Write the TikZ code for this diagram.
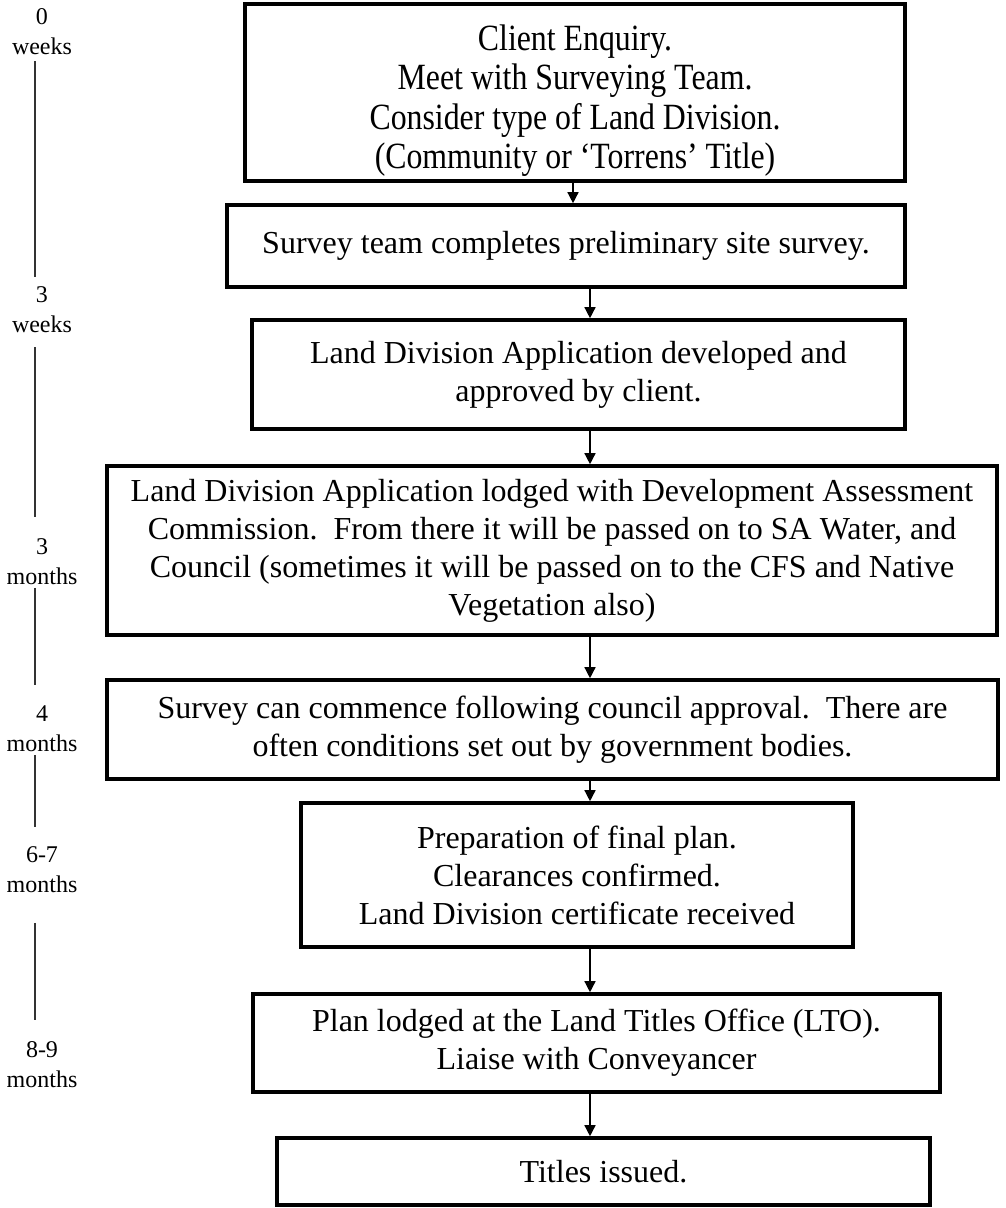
\documentclass[tikz,border=0pt]{standalone}
\usepackage{fontspec}
\setmainfont{Liberation Serif}
\newfontfamily\narrowserif[FakeStretch=0.86, Ligatures=TeX]{Liberation Serif}
\usetikzlibrary{arrows.meta,positioning,calc}

\begin{document}
\begin{tikzpicture}[
    x=0.5pt, y=-0.5pt,
    stage/.style={rectangle, draw, line width=1.8pt, align=center, inner sep=0pt,
                  font=\fontsize{16}{19}\selectfont},
    edge/.style={-{Triangle[length=5.5pt, width=5.5pt]}, line width=0.7pt},
    period/.style={align=center, inner sep=0pt, font=\fontsize{12}{15}\selectfont},
    span/.style={line width=0.8pt, draw=black!80}
]
\useasboundingbox (0,0) rectangle (1005,1208);

% Stages
\node[stage, minimum width=330pt, minimum height=88.5pt,
      font=\narrowserif\fontsize{18.5}{19.6}\selectfont] (enquiry) at (575,92.5)
    {\rule{0pt}{21pt}Client Enquiry.\\ Meet with Surveying Team.\\ Consider type of Land Division.\\ (Community or `Torrens' Title)};
\node[stage, minimum width=339pt, minimum height=41pt] (prelim) at (566,246)
    {Survey team completes preliminary site survey.};
\node[stage, minimum width=326.5pt, minimum height=54.5pt] (develop) at (578.5,374.5)
    {Land Division Application developed and\\ approved by client.};
\node[stage, minimum width=445pt, minimum height=84.5pt] (lodged) at (552,550.5)
    {Land Division Application lodged with Development Assessment\\
     Commission.\ \ From there it will be passed on to SA Water, and\\
     Council (sometimes it will be passed on to the CFS and Native\\
     Vegetation also)};
\node[stage, minimum width=445.5pt, minimum height=49.5pt] (approval) at (552.5,729.5)
    {Survey can commence following council approval.\ \ There are\\
     often conditions set out by government bodies.};
\node[stage, minimum width=276pt, minimum height=72pt] (final) at (577,875)
    {Preparation of final plan.\\ Clearances confirmed.\\ Land Division certificate received};
\node[stage, minimum width=343.5pt, minimum height=49pt] (lto) at (596.5,1043)
    {Plan lodged at the Land Titles Office (LTO).\\ Liaise with Conveyancer};
\node[stage, minimum width=326.5pt, minimum height=33.5pt] (titles) at (603.5,1171.5)
    {Titles issued.};

% Arrows
\coordinate (lane1) at (573,0);
\coordinate (lane) at (590,0);
\draw[edge] (enquiry.south -| lane1) -- (prelim.north -| lane1);
\draw[edge] (prelim.south -| lane) -- (develop.north -| lane);
\draw[edge] (develop.south -| lane) -- (lodged.north -| lane);
\draw[edge] (lodged.south -| lane) -- (approval.north -| lane);
\draw[edge] (approval.south -| lane) -- (final.north -| lane);
\draw[edge] (final.south -| lane) -- (lto.north -| lane);
\draw[edge] (lto.south -| lane) -- (titles.north -| lane);

% Time line
\node[period] (w0) at (42,32) {0\\weeks};
\node[period] (w3) at (42,310) {3\\weeks};
\node[period] (m3) at (42,562) {3\\months};
\node[period] (m4) at (42,729) {4\\months};
\node[period] (m67) at (42,870) {6-7\\months};
\node[period] (m89) at (42,1065) {8-9\\months};

\draw[span, shorten <=3pt, shorten >=4.75pt] ([xshift=-3.5pt]w0.south) -- ([xshift=-3.5pt]w3.north);
\draw[span, shorten <=7pt, shorten >=10.75pt] ([xshift=-3.5pt]w3.south) -- ([xshift=-3.5pt]m3.north);
\draw[span, shorten <=1.25pt, shorten >=10.25pt] ([xshift=-3.5pt]m3.south) -- ([xshift=-3.5pt]m4.north);
\draw[span, shorten <=1.25pt, shorten >=9.75pt] ([xshift=-3.5pt]m4.south) -- ([xshift=-3.5pt]m67.north);
\draw[span, shorten <=14.75pt, shorten >=10.75pt] ([xshift=-3.5pt]m67.south) -- ([xshift=-3.5pt]m89.north);
\end{tikzpicture}
\end{document}
